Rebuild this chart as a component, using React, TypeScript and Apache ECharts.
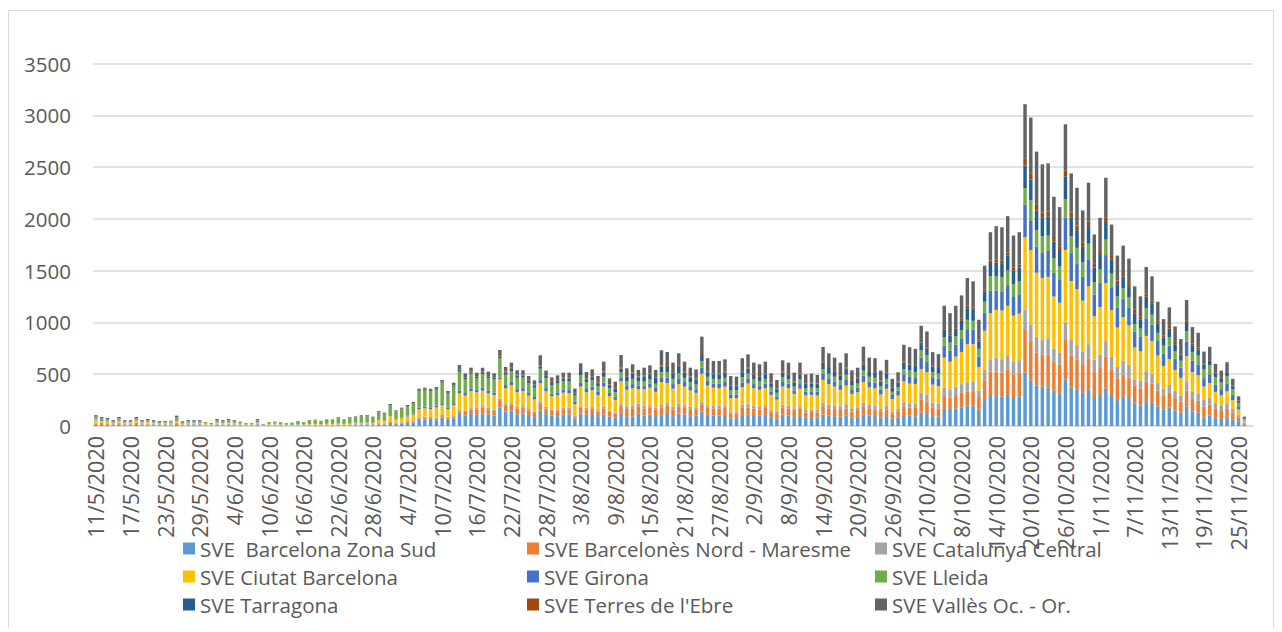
import React, { useEffect, useRef } from "react";
import * as echarts from "echarts";

// Date spans (month, first day, last day) of the category axis, year 2020
const monthSpans: number[][] = [
  [5, 11, 31],
  [6, 1, 30],
  [7, 1, 31],
  [8, 1, 31],
  [9, 1, 30],
  [10, 1, 31],
  [11, 1, 27],
];
const categories: string[] = [];
monthSpans.forEach(([m, a, b]) => {
  for (let d = a; d <= b; d++) categories.push(`${d}/${m}/2020`);
});

const yTicks = [0, 500, 1000, 1500, 2000, 2500, 3000, 3500];

const seriesNames = [
  "SVE  Barcelona Zona Sud",
  "SVE Barcelonès Nord - Maresme",
  "SVE Catalunya Central",
  "SVE Ciutat Barcelona",
  "SVE Girona",
  "SVE Lleida",
  "SVE Tarragona",
  "SVE Terres de l'Ebre",
  "SVE Vallès Oc. - Or.",
];
const colors = ["#5B9BD5", "#ED7D31", "#A5A5A5", "#FFC000", "#4472C4", "#70AD47", "#255E91", "#9E480E", "#636363"];

const zonaSud = [
  12,10,9,7,11,6,7,10,7,8, 7,6,5,6,10,5,6,7,6,4, 3,7,6,7,6,4,3,3,7,2, 4,4,3,2,
  2,3,3,4,4,3,5,4,6,4,6,7,7,8,7,
  15,12,30,18,24,28,34,58,62,58,55,80,62,72,
  116,100,115,110,122,110,100,180,140,150, 110,120,105,85,150,115,100,95,110,112, 70,120,110,115,95,110,90,80,
  125,95,90,120,100,110,95,105,125,95, 120,110,95,100,140,110,100,100,105,70, 75,105,110,105,100,110,85,70,110,100, 85,105,80,80,80,110,100,95,90,100, 80,85,110,100,
  95,80,95,70,80,105,100,95,129,125, 95,90,165,155,170,180,197,200,160,250, 290,290,285,300,280,285,
  516,440,390,380,370,340,320,450,370,350, 320,350,280,300,360,290,250,284,270,219, 200,240,230,190,160,180,150,130,190,140, 130,84,100,80,70,80,60,40,15,
];
const nordMaresme = [
  11,9,8,6,10,7,8,9,5,6, 6,4,5,5,9,4,6,5,6,4, 3,6,5,6,5,4,3,2,6,2, 3,4,3,2,
  2,2,2,3,3,3,3,3,4,3,4,5,5,6,5,
  7,6,8,7,9,10,11,16,18,18,15,16,18,20,
  26,35,45,50,58,50,45,70,60,55, 60,58,45,40,70,55,45,48,52,50, 20,55,50,55,45,60,45,40,
  60,70,75,70,70,65,65,75,70,65, 70,65,60,55,70,65,70,70,70,50, 45,70,70,65,60,65,55,45,70,70, 60,60,50,55,50,75,70,70,65,70, 60,60,75,70,
  65,55,65,45,55,85,80,80,123,110, 85,80,125,120,130,140,135,140,120,190, 235,235,230,245,220,225,
  419,370,320,310,320,280,270,380,310,290, 270,300,240,260,310,250,210,210,200,171, 160,190,180,150,130,140,120,105,150,120, 115,103,105,85,75,85,65,40,12,
];
const catCentral = [
  12,10,9,7,10,8,7,11,8,9, 8,6,6,7,11,6,7,7,7,5, 4,8,7,8,7,5,3,4,8,2, 5,5,4,3,
  2,3,3,4,4,4,4,5,6,4,5,6,7,7,6,
  8,7,8,7,8,9,10,10,11,10,10,10,9,10,
  13,14,16,15,16,15,14,16,15,16, 16,15,14,13,18,16,14,14,15,15, 12,16,15,15,14,20,14,12,
  25,25,30,25,25,25,20,25,30,25, 25,25,30,25,25,25,25,25,25,20, 20,30,30,25,25,25,20,20,25,25, 25,25,25,25,25,40,35,35,35,40, 30,30,40,35,
  35,30,35,25,30,40,40,40,71,65, 45,45,80,75,80,85,90,90,60,100, 113,135,130,135,125,125,
  187,170,150,140,150,130,120,170,150,140, 130,140,120,130,150,130,110,135,120,61, 80,100,90,80,70,75,70,60,85,70, 70,65,65,55,50,55,40,25,8,
];
const ciutatBcn = [
  28,22,20,14,21,14,13,23,14,16, 13,11,12,12,22,11,13,12,13,8, 6,14,12,14,12,9,6,6,13,4, 8,8,7,5,
  4,6,5,7,8,6,8,7,10,8,10,11,12,13,12,
  28,24,52,32,40,45,55,77,80,78,100,97,72,100,
  161,145,160,150,145,140,140,185,150,175, 140,145,130,120,175,150,130,140,145,140, 110,190,150,160,145,190,140,120,
  220,160,170,140,160,170,150,220,190,175, 190,180,160,140,270,190,175,170,180,130, 130,170,200,170,165,165,140,120,175,170, 140,170,140,140,140,220,200,180,160,180, 140,150,200,170,
  170,140,165,120,130,200,190,190,226,220, 175,170,290,270,290,310,368,360,230,380, 452,461,470,480,440,450,
  700,720,620,600,600,500,480,700,570,540, 490,560,420,460,560,450,380,423,380,306, 280,340,320,260,220,250,200,170,250,190, 175,129,145,110,100,115,85,55,18,
];
const girona = [
  8,7,5,4,7,4,4,8,4,5, 4,3,3,4,12,3,4,4,4,3, 2,5,4,5,4,3,2,2,5,1, 3,3,2,2,
  1,2,1,2,2,2,3,2,3,2,3,4,4,4,3,
  6,5,7,5,6,7,8,16,16,16,16,16,14,18,
  26,25,28,25,29,25,24,15,30,30, 30,28,25,22,30,30,25,28,30,30, 22,35,32,35,30,40,30,30,
  40,35,40,35,35,40,38,45,50,45, 55,45,40,35,60,45,40,45,45,35, 35,45,50,40,40,45,35,30,45,45, 35,45,35,35,35,60,55,50,45,55, 45,45,60,55,
  55,45,50,40,45,70,70,65,113,100, 70,70,115,110,115,125,145,140,100,170, 216,187,185,200,180,180,
  316,280,250,240,250,230,220,310,270,250, 230,260,210,230,270,220,190,177,170,155, 140,170,160,140,120,130,110,100,140,110, 105,81,85,70,60,70,50,30,8,
];
const lleida = [
  16,14,13,10,14,9,10,13,10,12, 10,9,8,8,18,10,11,12,12,8, 6,15,13,16,13,10,7,7,17,5, 10,11,10,9,
  18,27,21,32,34,28,35,36,47,36,48,52,58,58,48,
  68,63,90,68,75,87,95,160,161,158,150,193,130,160,
  183,130,140,110,132,120,130,190,100,105, 110,100,95,90,110,95,80,85,80,82, 60,75,65,60,55,55,45,45,
  50,45,50,45,40,40,40,50,55,50, 50,40,40,45,60,40,45,40,40,40, 40,50,45,45,40,45,35,35,45,40, 35,45,35,35,35,45,45,45,45,50, 35,40,50,45,
  45,35,45,30,35,50,55,50,68,65, 50,50,80,75,80,85,90,85,75,110, 139,135,135,140,125,130,
  158,200,160,160,150,140,130,180,160,150, 140,150,120,130,150,130,110,103,100,74, 80,100,95,80,75,80,70,65,100,85, 85,87,85,70,65,75,55,35,8,
];
const tarragona = [
  3,3,2,2,2,2,2,3,2,2, 2,2,2,2,3,2,2,2,2,1, 1,2,2,2,2,1,1,1,2,1, 1,1,1,1,
  1,1,1,1,1,1,1,2,2,2,2,2,2,3,2,
  3,3,3,3,3,4,4,8,8,8,8,10,8,10,
  16,15,14,14,16,15,14,14,20,22, 20,20,20,20,20,22,22,25,28,28, 20,30,30,32,30,40,30,35,
  35,45,50,35,50,50,55,55,50,55, 60,50,45,50,60,45,45,50,50,40, 40,50,50,45,45,45,40,35,45,45, 40,45,40,40,40,60,55,55,50,60, 45,45,60,55,
  55,45,55,40,45,60,60,60,61,60, 55,55,75,70,75,90,113,105,70,100, 129,135,130,145,130,135,
  219,200,190,180,180,160,150,220,180,170, 150,170,140,150,170,140,120,113,110,97, 90,110,105,90,80,85,70,60,80,65, 60,45,50,40,35,40,30,20,6,
];
const terresEbre = [
  2,1,1,1,1,1,1,1,1,1, 1,1,1,1,2,1,1,1,1,1, 0,1,1,1,1,1,0,0,1,0, 0,1,0,0,
  0,1,0,1,1,1,1,1,1,1,1,1,1,1,1,
  2,1,2,2,2,2,3,3,3,3,4,9,4,5,
  6,6,6,5,5,6,5,14,10,10, 10,8,8,8,10,8,10,8,8,8, 5,10,8,8,8,10,7,6,
  8,8,10,8,8,8,8,10,10,10, 12,8,8,8,10,8,8,8,9,8, 7,9,9,8,8,8,7,6,8,8, 7,8,7,8,6,10,10,10,10,12, 8,10,20,10,
  10,8,10,7,8,12,12,10,16,15, 12,10,16,15,16,20,23,22,18,20, 23,32,30,32,28,30,
  65,60,55,50,50,45,40,60,50,45, 40,45,35,40,45,40,35,32,30,39, 25,30,30,25,20,25,20,15,20,15, 15,13,13,10,10,10,8,5,2,
];
const vallesOcOr = [
  13,11,10,7,11,7,6,9,7,9, 7,6,6,6,13,6,8,8,7,5, 4,10,8,9,8,5,4,4,9,3, 5,5,5,4,
  2,3,3,4,4,3,4,4,5,4,5,5,7,6,6,
  8,8,12,9,10,11,12,12,11,11,18,13,21,23,
  42,38,39,36,39,44,37,50,45,49, 42,44,41,43,100,44,44,46,47,50, 42,74,62,67,61,96,59,60,
  123,74,81,63,75,78,70,146,135,92, 120,98,85,89,168,126,120,120,120,90, 85,125,128,109,113,113,92,83,111,109, 88,109,87,88,82,143,132,120,112,135, 95,98,151,120,
  125,97,119,78,91,162,154,155,161,153, 126,124,215,200,205,226,268,255,193,228, 274,319,324,349,311,311,
  527,538,514,466,466,388,383,443,379,365, 311,374,284,310,382,295,240,265,236,226, 197,256,235,185,157,180,151,134,201,160, 145,112,117,80,70,86,62,37,13,
];

const seriesData = [zonaSud, nordMaresme, catCentral, ciutatBcn, girona, lleida, tarragona, terresEbre, vallesOcOr];

const FONT = "'Open Sans', 'Noto Sans', sans-serif";
const TEXT = "#595959";

export default function App() {
  const ref = useRef<HTMLDivElement>(null);
  useEffect(() => {
    if (!ref.current) return;
    const chart = echarts.init(ref.current, undefined, { renderer: "svg" });
    const legendCol = (names: string[], left: number) => ({
      orient: "vertical",
      left,
      top: 528,
      padding: 0,
      itemGap: 7,
      itemWidth: 12,
      itemHeight: 12,
      icon: "rect",
      data: names,
      selectedMode: false,
      textStyle: { color: TEXT, fontFamily: FONT, fontSize: 20.5, lineHeight: 20 },
    });
    chart.setOption({
      animation: false,
      color: colors,
      textStyle: { fontFamily: FONT },
      graphic: [
        {
          type: "rect",
          shape: { x: 0.5, y: 0.5, width: 1265, height: 619 },
          style: { fill: "none", stroke: "#d9d9d9", lineWidth: 1 },
          silent: true,
        },
      ],
      grid: { left: 85, top: 53.5, width: 1160, height: 362.5, containLabel: false },
      legend: [
        legendCol([seriesNames[0], seriesNames[3], seriesNames[6]], 175),
        legendCol([seriesNames[1], seriesNames[4], seriesNames[7]], 519),
        legendCol([seriesNames[2], seriesNames[5], seriesNames[8]], 867),
      ],
      xAxis: {
        type: "category",
        data: categories,
        boundaryGap: true,
        axisLine: { show: true, lineStyle: { color: "#d9d9d9", width: 1.5 } },
        axisTick: { show: false },
        axisLabel: {
          interval: 5,
          rotate: 90,
          margin: 10,
          color: TEXT,
          fontFamily: FONT,
          fontSize: 21.5,
        },
        splitLine: { show: false },
      },
      yAxis: {
        type: "value",
        min: yTicks[0],
        max: yTicks[yTicks.length - 1],
        interval: 500,
        axisLine: { show: false },
        axisTick: { show: false },
        axisLabel: {
          color: TEXT,
          fontFamily: FONT,
          fontSize: 20.5,
          margin: 22,
          formatter: (v: number) => String(v),
        },
        splitLine: { lineStyle: { color: "#d9d9d9", width: 1.5 } },
      },
      series: seriesNames.map((name, i) => ({
        name,
        type: "bar",
        stack: "total",
        data: seriesData[i],
        barCategoryGap: "40%",
        itemStyle: { color: colors[i] },
        emphasis: { disabled: true },
      })),
    });
    return () => chart.dispose();
  }, []);
  return (
    <div
      ref={ref}
      style={{ width: 1266, height: 620, position: "relative", top: 2, background: "#fff" }}
    />
  );
}
